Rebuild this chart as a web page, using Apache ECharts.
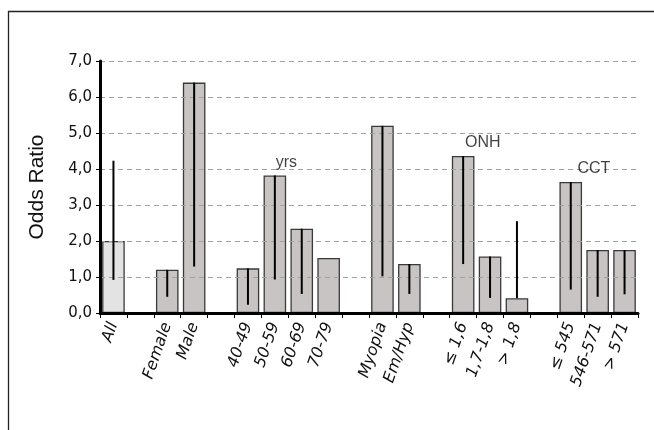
<!doctype html>
<html>
<head>
<meta charset="utf-8" />
<title>Odds Ratio</title>
<script src="https://cdn.jsdelivr.net/npm/echarts@6/dist/echarts.min.js"></script>
<style>
  html, body { margin: 0; padding: 0; background: #fff; }
  #main { width: 654px; height: 430px; }
</style>
</head>
<body>
<div id="main"></div>
<script>
// categories, "_n" entries are empty gap slots between groups
var categories = ['All', '_1', 'Female', 'Male', '_2', '40-49', '50-59', '60-69', '70-79', '_3',
  'Myopia', 'Em/Hyp', '_4', '\u2264 1,6', '1,7-1,8', '> 1,8', '_5', '\u2264 545', '546-571', '> 571'];

var oddsRatio = [2.0, null, 1.2, 6.4, null, 1.24, 3.82, 2.34, 1.53, null,
  5.2, 1.36, null, 4.36, 1.57, 0.41, null, 3.64, 1.75, 1.75];

// confidence interval lines (low / high)
var ciLow  = [0.92, null, 0.45, 1.29, null, 0.23, 0.93, 0.53, null, null,
  1.02, 0.53, null, 1.36, 0.42, 0.41, null, 0.65, 0.45, 0.52];
var ciHigh = [4.23, null, 1.2, 6.4, null, 1.24, 3.82, 2.34, null, null,
  5.2, 1.36, null, 4.36, 1.57, 2.55, null, 3.64, 1.75, 1.75];

// group captions: [x position in slots, y value, text]
var groupNotes = [[6.93, 4.17, 'yrs'], [14.23, 4.73, 'ONH'], [18.36, 4.02, 'CCT']];

var yTicks = { min: 0, max: 7, step: 1 };

var ciData = [];
for (var i = 0; i < categories.length; i++) {
  if (ciLow[i] != null && ciHigh[i] != null) {
    ciData.push([i, ciLow[i], ciHigh[i]]);
  }
}

var myChart = echarts.init(document.getElementById('main'), null, { renderer: 'canvas' });

var option = {
  animation: false,
  backgroundColor: '#fff',
  graphic: [{
    type: 'rect',
    shape: { x: 8.5, y: 11.5, width: 700, height: 480 },
    style: { fill: 'none', stroke: '#222', lineWidth: 1.3 },
    silent: true
  }],
  grid: { left: 100, right: 16, top: 61, bottom: 117 },
  xAxis: [{
    type: 'category',
    data: categories,
    z: 3,
    axisLine: { lineStyle: { color: '#000', width: 3 } },
    axisTick: { show: true, length: 5, lineStyle: { color: '#000', width: 1 } },
    axisLabel: {
      interval: 0,
      rotate: 71,
      margin: 10,
      fontFamily: 'DejaVu Sans',
      fontStyle: 'italic',
      fontSize: 16,
      color: '#111',
      formatter: function (v) { return v.charAt(0) === '_' ? '' : v; }
    }
  }, {
    type: 'value',
    min: 0,
    max: categories.length,
    show: false
  }],
  yAxis: {
    type: 'value',
    min: yTicks.min,
    max: yTicks.max,
    interval: yTicks.step,
    name: 'Odds Ratio',
    nameLocation: 'middle',
    nameGap: 52,
    nameTextStyle: { fontFamily: 'Liberation Sans', fontSize: 21, color: '#111' },
    z: 3,
    axisLine: { show: true, lineStyle: { color: '#000', width: 3 } },
    axisTick: { show: true, length: 4, lineStyle: { color: '#000', width: 1 } },
    axisLabel: {
      margin: 8,
      fontFamily: 'DejaVu Sans',
      fontSize: 15,
      color: '#111',
      formatter: function (v) { return v.toFixed(1).replace('.', ','); }
    },
    splitLine: { show: true, lineStyle: { color: '#a0a0a0', type: [5, 4], width: 1 } }
  },
  series: [{
    type: 'bar',
    data: oddsRatio,
    barCategoryGap: '16%',
    itemStyle: {
      color: function (p) { return p.dataIndex === 0 ? '#e3e3e3' : '#c9c4c4'; },
      borderColor: '#3a3a3a',
      borderWidth: 1.3
    }
  }, {
    type: 'custom',
    data: ciData,
    z: 5,
    renderItem: function (params, api) {
      var lo = api.coord([api.value(0), api.value(1)]);
      var hi = api.coord([api.value(0), api.value(2)]);
      return {
        type: 'line',
        shape: { x1: lo[0], y1: lo[1], x2: hi[0], y2: hi[1] },
        style: { stroke: '#000', lineWidth: 2 }
      };
    }
  }, {
    type: 'scatter',
    xAxisIndex: 1,
    data: groupNotes,
    symbolSize: 1,
    itemStyle: { color: 'rgba(0,0,0,0)' },
    label: {
      show: true,
      position: 'inside',
      formatter: function (p) { return p.value[2]; },
      fontFamily: 'Liberation Sans',
      fontSize: 16,
      color: '#111'
    },
    z: 6
  }]
};

myChart.setOption(option);
</script>
</body>
</html>
